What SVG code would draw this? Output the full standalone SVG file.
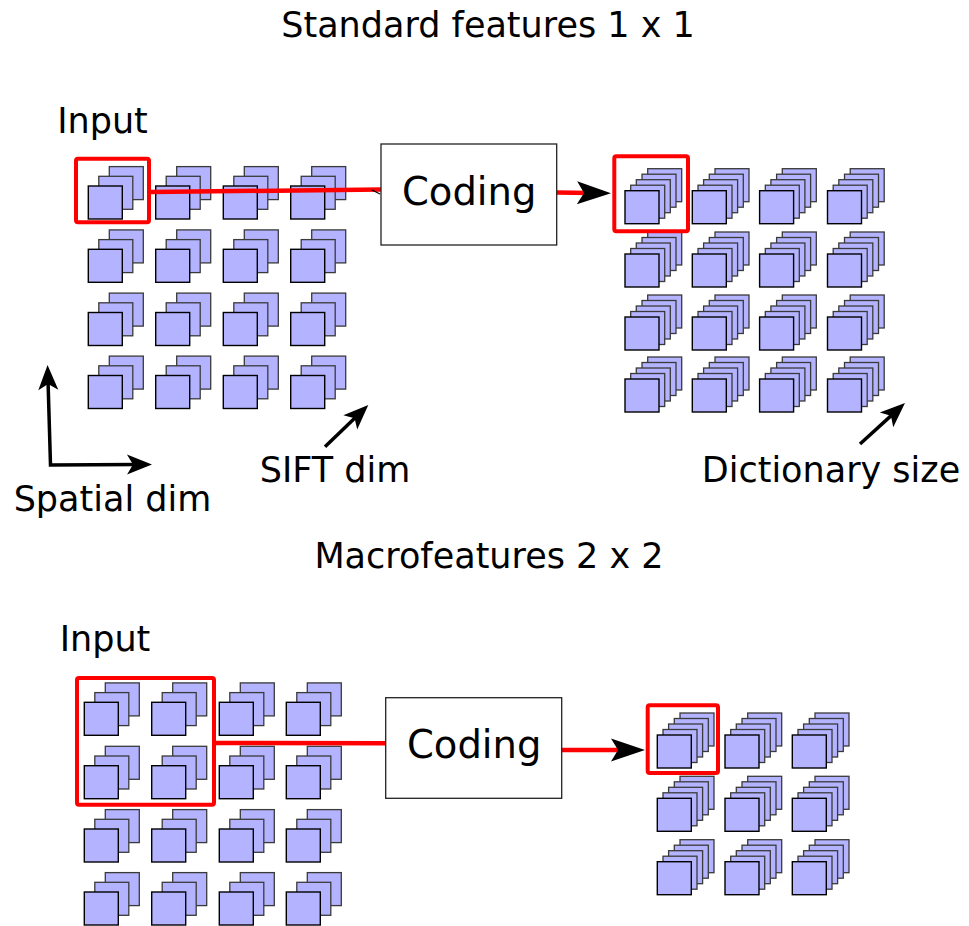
<svg xmlns="http://www.w3.org/2000/svg" xmlns:xlink="http://www.w3.org/1999/xlink" width="969" height="926" viewBox="0 0 969 926">
<style>
  .sq { fill: #b3b3ff; stroke: #3a3a3a; stroke-width: 1.3; }
  .sqf { fill: #b3b3ff; stroke: #000; stroke-width: 1.4; }
  .lbl { font-family: "DejaVu Sans", "Liberation Sans", sans-serif; font-size: 35px; fill: #000; text-anchor: middle; }
  .code { font-family: "DejaVu Sans", "Liberation Sans", sans-serif; font-size: 38.5px; fill: #000; text-anchor: middle; }
  .box { fill: #fff; stroke: #222; stroke-width: 1.3; }
  .sel { fill: none; stroke: #ff0000; stroke-width: 4; }
  .red { fill: none; stroke: #ff0000; stroke-width: 4.5; }
  .blk { fill: none; stroke: #000; stroke-width: 3.5; }
</style>
<defs>
  <g id="stack3">
    <rect class="sq" x="21" y="-19.4" width="34" height="33"/>
    <rect class="sq" x="10.5" y="-9.7" width="34" height="33"/>
    <rect class="sqf" x="0" y="0" width="34" height="33"/>
  </g>
  <g id="stack5">
    <rect class="sq" x="22.7" y="-22" width="34" height="33"/>
    <rect class="sq" x="17" y="-16.5" width="34" height="33"/>
    <rect class="sq" x="11.3" y="-11" width="34" height="33"/>
    <rect class="sq" x="5.7" y="-5.5" width="34" height="33"/>
    <rect class="sqf" x="0" y="0" width="34" height="33"/>
  </g>
  <marker id="ah" markerUnits="userSpaceOnUse" markerWidth="40" markerHeight="30" viewBox="-15 -15 40 30" refX="0" refY="0" orient="auto-start-reverse" overflow="visible">
    <path d="M15,0 L-10,-10 L-4,0 L-10,10 Z" fill="#000"/>
  </marker>
  <marker id="ahr" markerUnits="userSpaceOnUse" markerWidth="50" markerHeight="30" viewBox="-20 -15 50 30" refX="0" refY="0" orient="auto" overflow="visible">
    <path d="M21,0 L-13,-11.5 L-6,0 L-13,11.5 Z" fill="#000"/>
  </marker>
</defs>

<g id="title-top"><text class="lbl" x="488" y="36.7">Standard features 1 x 1</text></g>
<g id="title-bottom"><text class="lbl" x="489" y="567.5">Macrofeatures 2 x 2</text></g>
<g id="label-input-top"><text class="lbl" x="102.5" y="133.3">Input</text></g>
<g id="label-input-bottom"><text class="lbl" x="105" y="651">Input</text></g>
<g id="label-spatial"><text class="lbl" x="112.5" y="511">Spatial dim</text></g>
<g id="label-sift"><text class="lbl" x="335" y="481.7">SIFT dim</text></g>
<g id="label-dict"><text class="lbl" x="831" y="481.7">Dictionary size</text></g>

<g id="input-grid-top">
  <use href="#stack3" x="88.3" y="186"/><use href="#stack3" x="155.7" y="186"/><use href="#stack3" x="223.3" y="186"/><use href="#stack3" x="290.7" y="186"/>
  <use href="#stack3" x="88.3" y="249.3"/><use href="#stack3" x="155.7" y="249.3"/><use href="#stack3" x="223.3" y="249.3"/><use href="#stack3" x="290.7" y="249.3"/>
  <use href="#stack3" x="88.3" y="312.5"/><use href="#stack3" x="155.7" y="312.5"/><use href="#stack3" x="223.3" y="312.5"/><use href="#stack3" x="290.7" y="312.5"/>
  <use href="#stack3" x="88.3" y="375.5"/><use href="#stack3" x="155.7" y="375.5"/><use href="#stack3" x="223.3" y="375.5"/><use href="#stack3" x="290.7" y="375.5"/>
</g>

<g id="output-grid-top">
  <use href="#stack5" x="625" y="190.7"/><use href="#stack5" x="692.3" y="190.7"/><use href="#stack5" x="759.6" y="190.7"/><use href="#stack5" x="827.5" y="190.7"/>
  <use href="#stack5" x="625" y="254"/><use href="#stack5" x="692.3" y="254"/><use href="#stack5" x="759.6" y="254"/><use href="#stack5" x="827.5" y="254"/>
  <use href="#stack5" x="625" y="317"/><use href="#stack5" x="692.3" y="317"/><use href="#stack5" x="759.6" y="317"/><use href="#stack5" x="827.5" y="317"/>
  <use href="#stack5" x="625" y="379"/><use href="#stack5" x="692.3" y="379"/><use href="#stack5" x="759.6" y="379"/><use href="#stack5" x="827.5" y="379"/>
</g>

<g id="input-grid-bottom">
  <use href="#stack3" x="84.3" y="702.3"/><use href="#stack3" x="151.7" y="702.3"/><use href="#stack3" x="219.3" y="702.3"/><use href="#stack3" x="286.3" y="702.3"/>
  <use href="#stack3" x="84.3" y="765.7"/><use href="#stack3" x="151.7" y="765.7"/><use href="#stack3" x="219.3" y="765.7"/><use href="#stack3" x="286.3" y="765.7"/>
  <use href="#stack3" x="84.3" y="829"/><use href="#stack3" x="151.7" y="829"/><use href="#stack3" x="219.3" y="829"/><use href="#stack3" x="286.3" y="829"/>
  <use href="#stack3" x="84.3" y="892"/><use href="#stack3" x="151.7" y="892"/><use href="#stack3" x="219.3" y="892"/><use href="#stack3" x="286.3" y="892"/>
</g>

<g id="output-grid-bottom">
  <use href="#stack5" x="657.3" y="735"/><use href="#stack5" x="725" y="735"/><use href="#stack5" x="792.3" y="735"/>
  <use href="#stack5" x="657.3" y="798.3"/><use href="#stack5" x="725" y="798.3"/><use href="#stack5" x="792.3" y="798.3"/>
  <use href="#stack5" x="657.3" y="861.7"/><use href="#stack5" x="725" y="861.7"/><use href="#stack5" x="792.3" y="861.7"/>
</g>

<g id="connectors">
  <line class="red" x1="151" y1="192" x2="381" y2="189.5"/>
  <line x1="372" y1="190" x2="380" y2="194" stroke="#000" stroke-width="1.2"/>
  <line class="red" x1="557" y1="192.5" x2="590" y2="193" marker-end="url(#ahr)"/>
  <line class="red" x1="216" y1="743" x2="386" y2="743.3"/>
  <line class="red" x1="561.7" y1="750" x2="624" y2="750" marker-end="url(#ahr)"/>
  <polyline class="blk" points="48,380 50.5,465 137,464.5" stroke-linejoin="miter" marker-start="url(#ah)" marker-end="url(#ah)"/>
  <line class="blk" x1="325" y1="446.7" x2="357.5" y2="415.4" marker-end="url(#ah)"/>
  <line class="blk" x1="860" y1="444" x2="893.9" y2="413.1" marker-end="url(#ah)"/>
</g>

<g id="coding-top">
  <rect class="box" x="381" y="144" width="175.7" height="101"/>
  <text class="code" x="469.2" y="205">Coding</text>
</g>
<g id="coding-bottom">
  <rect class="box" x="385.7" y="697.7" width="176" height="100.6"/>
  <text class="code" x="474.2" y="758.3">Coding</text>
</g>

<g id="select-input-top"><rect class="sel" x="76" y="158.7" width="73" height="63.5" rx="2"/></g>
<g id="select-output-top"><rect class="sel" x="614.3" y="156.3" width="73.7" height="75" rx="2"/></g>
<g id="select-input-bottom"><rect class="sel" x="77" y="678" width="137" height="126.7" rx="2"/></g>
<g id="select-output-bottom"><rect class="sel" x="647.7" y="705.3" width="70.3" height="67.7" rx="2"/></g>
</svg>
